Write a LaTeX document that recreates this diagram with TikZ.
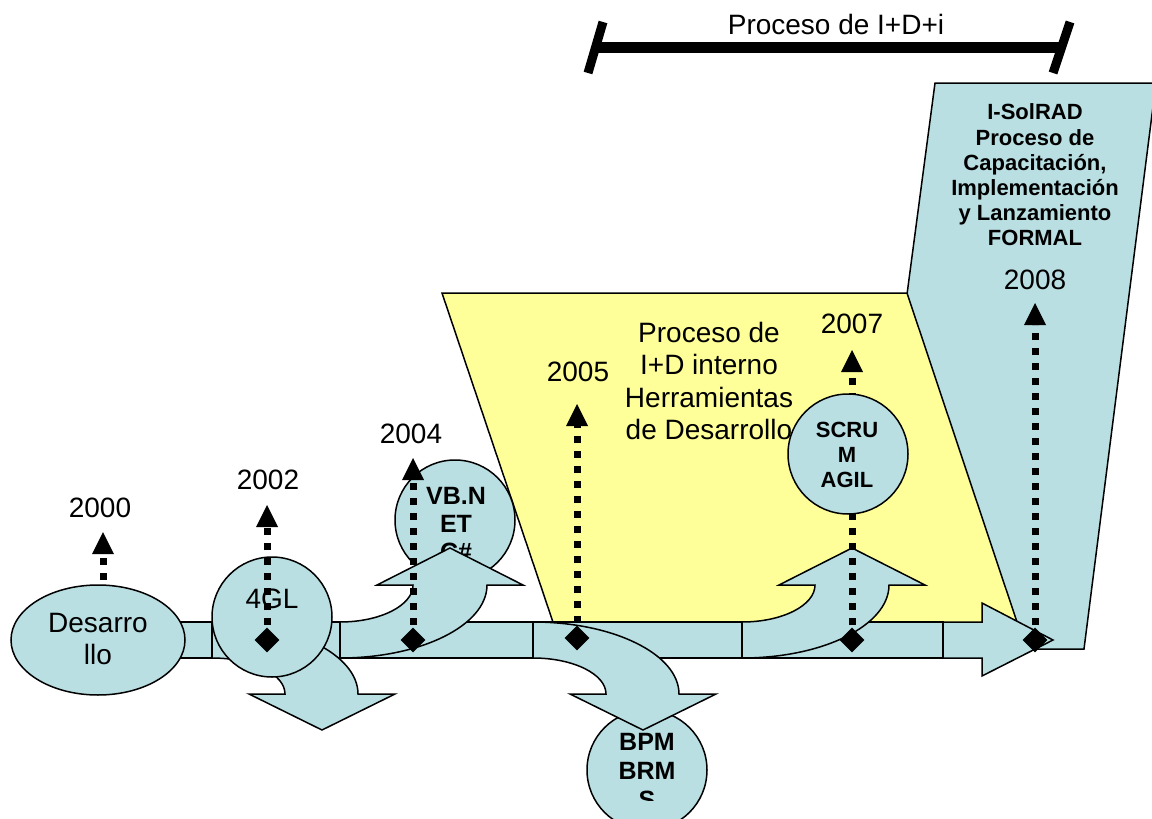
\documentclass[tikz,border=0pt]{standalone}
\usepackage{fontspec}
\setmainfont{Liberation Sans}
\usetikzlibrary{shapes.geometric}
\definecolor{lblue}{RGB}{185,223,227}
\definecolor{lyellow}{RGB}{255,255,153}
\newcommand{\yrtip}[1]{\fill (#1) -- ++(11,22) -- ++(-22,0) -- cycle;}
\begin{document}
\begin{tikzpicture}[x=1pt,y=-1pt,
  shp/.style={draw=black,line width=1.5,fill=lblue,line join=miter},
  circ/.style={shp,circle,minimum size=120,inner sep=0},
  reg/.style={font=\fontsize{28}{32}\selectfont,inner sep=0,align=center},
  bld/.style={font=\bfseries\fontsize{25}{28}\selectfont,inner sep=0,align=center},
  dotline/.style={line width=7,dash pattern=on 7 off 8},
  dia/.style={diamond,fill=black,inner sep=0,minimum size=25},
  downarr/.pic={\draw[shp] (0,622) arc[start angle=-90,end angle=0,x radius=146,y radius=72]
      -- (183,694) -- (110,730) -- (37,694) -- (73,694)
      arc[start angle=0,end angle=-90,x radius=73,y radius=36] -- cycle;},
  uparr/.pic={\draw[shp] (0,658) arc[start angle=90,end angle=0,x radius=147,y radius=73]
      -- (183,585) -- (110,548) -- (37,585) -- (73,585)
      arc[start angle=0,end angle=90,x radius=73,y radius=37] -- cycle;},
]
\useasboundingbox (0,0) rectangle (1152,819);
\clip (0,0) rectangle (1152,819);

% blue panel and yellow panel
\draw[shp] (935,83) -- (1156,83) -- (1084,649) -- (860,649) -- cycle;
\node[font=\bfseries\fontsize{22}{25.2}\selectfont,inner sep=0,align=center] (isol) at (1035,175)
  {I-SolRAD\\Proceso de\\Capacitación,\\Implementación\\y Lanzamiento\\FORMAL};
\draw[line width=1.5,fill=lyellow] (442,293) -- (907,293) -- (1023,640) -- (559,640) -- cycle;
\node[reg,font=\fontsize{28}{32.5}\selectfont] (ytext) at (709,381)
  {Proceso de\\I+D interno\\Herramientas\\de Desarrollo};

% bracket
\coordinate (bl) at (596,47.5); \coordinate (br) at (1062,47.5);
\draw[line width=11] (bl) -- (br);
\draw[line width=9] (603,22) -- (588,73);
\draw[line width=9] (1070,22) -- (1053,73);
\node[reg] (lproc) at (836,24) {Proceso de I+D+i};

% main band
\draw[shp] (150,622) rectangle (212,658);
\draw[shp] (212,622) rectangle (340,658);
\draw[shp] (340,622) rectangle (533,658);
\draw[shp] (533,622) rectangle (742,658);
\draw[shp] (742,622) rectangle (943,658);
\draw[shp] (943,622) -- (982,622) -- (982,603) -- (1053,640) -- (982,676) -- (982,658) -- (943,658) -- cycle;

% 2000 and Desarrollo
\node[dia] (d2000) at (103,640) {};
\coordinate (b2000) at (103,554); \coordinate (t2000) at (103,532);
\draw[dotline] (d2000.center) -- (b2000); \yrtip{t2000}
\node[shp,ellipse,minimum width=174,minimum height=110,inner sep=0] (desa) at (98,640) {};
\node[reg] (desat) at (98,639) {Desarro\\llo};

% 4GL
\pic at (212,0) {downarr};
\node[circ] (c4gl) at (272,617) {};
\node[reg] (t4gl) at (272,599) {4GL};

% VB.NET
\node[circ] (cvb) at (455,520) {};
\node[bld] (tvb) at (456,524.5) {VB.N\\ET\\C\#};
\pic at (340,0) {uparr};

% BPM
\node[circ] (cbpm) at (647,770) {};
\begin{scope}
  \clip (560,700) rectangle (740,800);
  \node[bld,font=\bfseries\fontsize{25}{29}\selectfont] (tbpm) at (647,771) {BPM\\BRM\\S};
\end{scope}
\pic at (533,0) {downarr};

% SCRUM
\pic at (742,0) {uparr};
\node[dia] (d2007) at (852,640) {};
\coordinate (b2007) at (852,372); \coordinate (t2007) at (852,350);
\draw[dotline] (d2007.center) -- (b2007); \yrtip{t2007}
\node[circ] (cscr) at (848,454) {};
\node[bld,font=\bfseries\fontsize{22}{25}\selectfont] (tscr) at (847,455) {SCRU\\M\\AGIL};

% other year connectors
\node[dia] (d2002) at (267,640) {};
\coordinate (b2002) at (267,527); \coordinate (t2002) at (267,505);
\draw[dotline] (d2002.center) -- (b2002); \yrtip{t2002}

\node[dia] (d2004) at (413,640) {};
\coordinate (b2004) at (413,480); \coordinate (t2004) at (413,458);
\draw[dotline] (d2004.center) -- (b2004); \yrtip{t2004}

\node[dia] (d2005) at (577,638) {};
\coordinate (b2005) at (577,426); \coordinate (t2005) at (577,404);
\draw[dotline] (d2005.center) -- (b2005); \yrtip{t2005}

\node[dia] (d2008) at (1035,640) {};
\coordinate (b2008) at (1035,325); \coordinate (t2008) at (1035,303);
\draw[dotline] (d2008.center) -- (b2008); \yrtip{t2008}

% year labels
\node[reg] (l2000) at (100,508) {2000};
\node[reg] (l2002) at (268,480) {2002};
\node[reg] (l2004) at (411,434) {2004};
\node[reg] (l2005) at (578,372) {2005};
\node[reg] (l2007) at (852,324) {2007};
\node[reg] (l2008) at (1035,280) {2008};
\end{tikzpicture}
\end{document}
